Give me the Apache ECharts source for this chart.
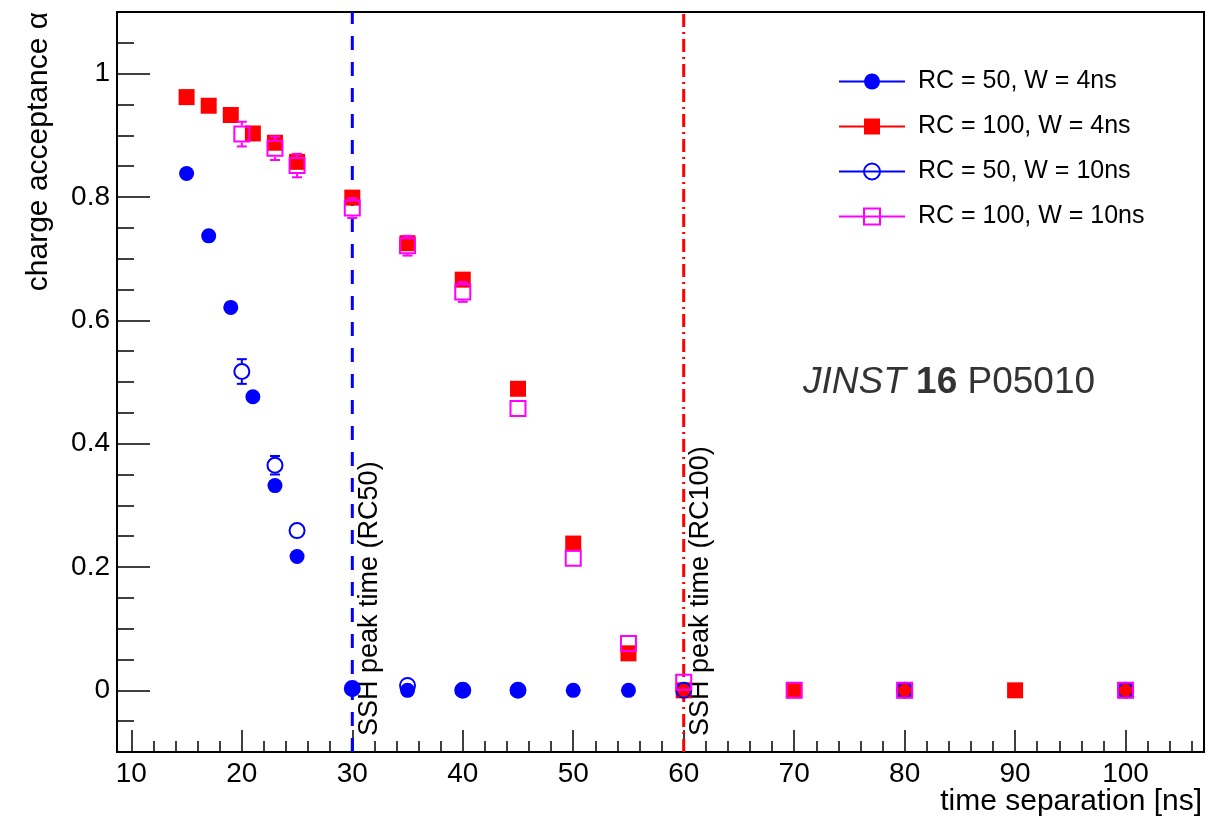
<!DOCTYPE html>
<html>
<head>
<meta charset="utf-8">
<script src="https://cdn.jsdelivr.net/npm/echarts@6/dist/echarts.min.js"></script>
<style>
  html, body { margin: 0; padding: 0; background: #fff; }
  #chart { width: 1225px; height: 819px; }
</style>
</head>
<body>
<div id="chart"></div>
<script>
// RC = 50, W = 4ns
var xRc50w4 = [15, 17, 19, 21, 23, 25, 30, 35, 40, 45, 50, 55, 60, 80, 100];
var yRc50w4 = [0.838, 0.737, 0.621, 0.476, 0.332, 0.217, 0.002, 0, 0, 0, 0, 0, 0, 0, 0];
// RC = 100, W = 4ns
var xRc100w4 = [15, 17, 19, 21, 23, 25, 30, 35, 40, 45, 50, 55, 60, 70, 80, 90, 100];
var yRc100w4 = [0.962, 0.948, 0.933, 0.903, 0.888, 0.857, 0.799, 0.725, 0.666, 0.489, 0.238, 0.060, 0, 0, 0, 0, 0];
// RC = 50, W = 10ns
var xRc50w10 = [20, 23, 25, 30, 35, 40, 45, 60, 80, 100];
var yRc50w10 = [0.517, 0.365, 0.259, 0.003, 0.008, 0, 0, 0, 0, 0];
var eRc50w10 = [0.02, 0.015, 0, 0, 0, 0, 0, 0, 0, 0];
// RC = 100, W = 10ns
var xRc100w10 = [20, 23, 25, 30, 35, 40, 45, 50, 55, 60, 70, 80, 100];
var yRc100w10 = [0.902, 0.879, 0.851, 0.782, 0.721, 0.646, 0.457, 0.214, 0.076, 0.013, 0, 0, 0];
var eRc100w10 = [0.02, 0.019, 0.019, 0.016, 0.016, 0.016, 0, 0, 0, 0, 0, 0, 0];

var names = ['RC = 50, W = 4ns', 'RC = 100, W = 4ns', 'RC = 50, W = 10ns', 'RC = 100, W = 10ns'];

// peak time lines
var peakX = [30, 60];
var peakLabels = ['SSH peak time (RC50)', 'SSH peak time (RC100)'];

// axis ticks
var xMajor = [10, 20, 30, 40, 50, 60, 70, 80, 90, 100];
var xMinor = [12, 14, 16, 18, 22, 24, 26, 28, 32, 34, 36, 38, 42, 44, 46, 48, 52, 54, 56, 58,
  62, 64, 66, 68, 72, 74, 76, 78, 82, 84, 86, 88, 92, 94, 96, 98, 102, 104, 106];
var yMajor = [0, 0.2, 0.4, 0.6, 0.8, 1];
var yMinor = [-0.05, 0.05, 0.1, 0.15, 0.25, 0.3, 0.35, 0.45, 0.5, 0.55, 0.65, 0.7, 0.75,
  0.85, 0.9, 0.95, 1.05];

var X_MIN = 8.7, X_MAX = 107.1, Y_MIN = -0.1, Y_MAX = 1.1;
var FONT = '"Liberation Sans", Arial, Helvetica, sans-serif';

function pairs(xs, ys, es) {
  return xs.map(function (x, i) {
    return es ? [x, ys[i], es[i]] : [x, ys[i]];
  });
}

function errorBars(color) {
  return function (params, api) {
    var e = api.value(2);
    if (!e) return null;
    var x = api.value(0), y = api.value(1);
    var p = api.coord([x, y]);
    var pt = api.coord([x, y + e]);
    var pb = api.coord([x, y - e]);
    var half = 8.5, cap = 5;
    var st = { stroke: color, lineWidth: 2 };
    var kids = [];
    if (pt[1] < p[1] - half) {
      kids.push({ type: 'line', shape: { x1: p[0], y1: p[1] - half, x2: p[0], y2: pt[1] }, style: st });
    }
    kids.push({ type: 'line', shape: { x1: p[0] - cap, y1: pt[1], x2: p[0] + cap, y2: pt[1] }, style: st });
    if (pb[1] > p[1] + half) {
      kids.push({ type: 'line', shape: { x1: p[0], y1: p[1] + half, x2: p[0], y2: pb[1] }, style: st });
    }
    kids.push({ type: 'line', shape: { x1: p[0] - cap, y1: pb[1], x2: p[0] + cap, y2: pb[1] }, style: st });
    return { type: 'group', children: kids };
  };
}

// line series used only for its markers, so the legend shows line + marker like ROOT
function markerSeries(name, data, color, symbol, size, style) {
  return {
    name: name,
    type: 'line',
    data: data,
    symbol: symbol,
    symbolSize: size,
    showAllSymbol: true,
    lineStyle: { width: 0, opacity: 0, color: color },
    itemStyle: style,
    emphasis: { disabled: true },
    z: 3
  };
}

function xAxisOf(ticks, len, labels) {
  return {
    type: 'value', min: X_MIN, max: X_MAX, position: 'bottom',
    axisLine: { show: false, onZero: false },
    splitLine: { show: false },
    axisTick: { show: true, inside: true, length: len, customValues: ticks, lineStyle: { color: '#000', width: 1.5 } },
    axisLabel: labels ? { show: true, customValues: ticks, margin: 8, color: '#000', fontSize: 28, fontFamily: FONT } : { show: false }
  };
}

function yAxisOf(ticks, len, labels) {
  return {
    type: 'value', min: Y_MIN, max: Y_MAX, position: 'left',
    axisLine: { show: false, onZero: false },
    splitLine: { show: false },
    axisTick: { show: true, inside: true, length: len, customValues: ticks, lineStyle: { color: '#000', width: 1.5 } },
    axisLabel: labels ? { show: true, customValues: ticks, margin: 7, color: '#000', fontSize: 28, fontFamily: FONT } : { show: false }
  };
}

var options = {
  animation: false,
  backgroundColor: '#fff',
  grid: {
    show: true, left: 117, right: 21, top: 12, bottom: 67,
    borderColor: '#000', borderWidth: 2, backgroundColor: 'transparent'
  },
  xAxis: [xAxisOf(xMajor, 22, true), xAxisOf(xMinor, 11, false)],
  yAxis: [yAxisOf(yMajor, 33, true), yAxisOf(yMinor, 17, false)],
  legend: {
    data: names,
    orient: 'vertical',
    left: 838,
    top: 69,
    padding: 0,
    itemWidth: 66,
    itemHeight: 20,
    itemGap: 20,
    selectedMode: false,
    lineStyle: { width: 2, opacity: 1 },
    textStyle: { color: '#000', fontSize: 25, fontFamily: FONT, lineHeight: 24, padding: [0, 0, 0, 8] }
  },
  series: [
    {
      type: 'line', data: [[peakX[0], Y_MIN], [peakX[0], Y_MAX]], symbol: 'none',
      lineStyle: { color: '#0000ff', width: 3, type: [14, 12] }, z: 1, silent: true
    },
    {
      type: 'line', data: [[peakX[1], Y_MIN], [peakX[1], Y_MAX]], symbol: 'none',
      lineStyle: { color: '#ff0000', width: 3, type: [13, 5, 2, 5] }, z: 1, silent: true
    },
    markerSeries(names[0], pairs(xRc50w4, yRc50w4), '#0000ff', 'circle', 15, { color: '#0000ff' }),
    markerSeries(names[1], pairs(xRc100w4, yRc100w4), '#ff0000', 'rect', 16, { color: '#ff0000' }),
    markerSeries(names[2], pairs(xRc50w10, yRc50w10), '#0000ff', 'circle', 15,
      { color: 'rgba(255,255,255,0)', borderColor: '#0000ff', borderWidth: 2 }),
    markerSeries(names[3], pairs(xRc100w10, yRc100w10), '#ff00ff', 'rect', 15,
      { color: 'rgba(255,255,255,0)', borderColor: '#ff00ff', borderWidth: 2 }),
    {
      type: 'custom', data: pairs(xRc50w10, yRc50w10, eRc50w10),
      renderItem: errorBars('#0000ff'), z: 4, silent: true
    },
    {
      type: 'custom', data: pairs(xRc100w10, yRc100w10, eRc100w10),
      renderItem: errorBars('#ff00ff'), z: 4, silent: true
    }
  ]
};

var myChart = echarts.init(document.getElementById('chart'), null, { renderer: 'canvas' });
myChart.setOption(options);

// texts placed from the axis scales
var texts = [
  {
    type: 'text', x: 1202, y: 802,
    style: { text: 'time separation [ns]', fill: '#000', font: '30px ' + FONT, align: 'right', verticalAlign: 'middle' }
  },
  {
    type: 'text', x: 39, y: 12, rotation: Math.PI / 2,
    style: { text: 'charge acceptance α', fill: '#000', font: '30px ' + FONT, align: 'right', verticalAlign: 'middle' }
  },
  {
    type: 'text', x: 803, y: 383,
    style: {
      text: '{i|JINST} {b|16} {n|P05010}', fill: '#333', align: 'left', verticalAlign: 'middle',
      rich: {
        i: { fontSize: 37, fontStyle: 'italic', fontFamily: FONT, fill: '#333' },
        b: { fontSize: 37, fontWeight: 'bold', fontFamily: FONT, fill: '#333' },
        n: { fontSize: 37, fontFamily: FONT, fill: '#333' }
      },
      font: '37px ' + FONT
    }
  }
];
peakX.forEach(function (px, i) {
  var p = myChart.convertToPixel({ gridIndex: 0 }, [px, -0.074]);
  texts.push({
    type: 'text', x: p[0] + 17, y: p[1], rotation: Math.PI / 2,
    style: { text: peakLabels[i], fill: '#000', font: '27px ' + FONT, align: 'left', verticalAlign: 'middle' }
  });
});
myChart.setOption({ graphic: texts });

window.addEventListener('resize', function () {
  myChart.resize();
});
</script>
</body>
</html>
